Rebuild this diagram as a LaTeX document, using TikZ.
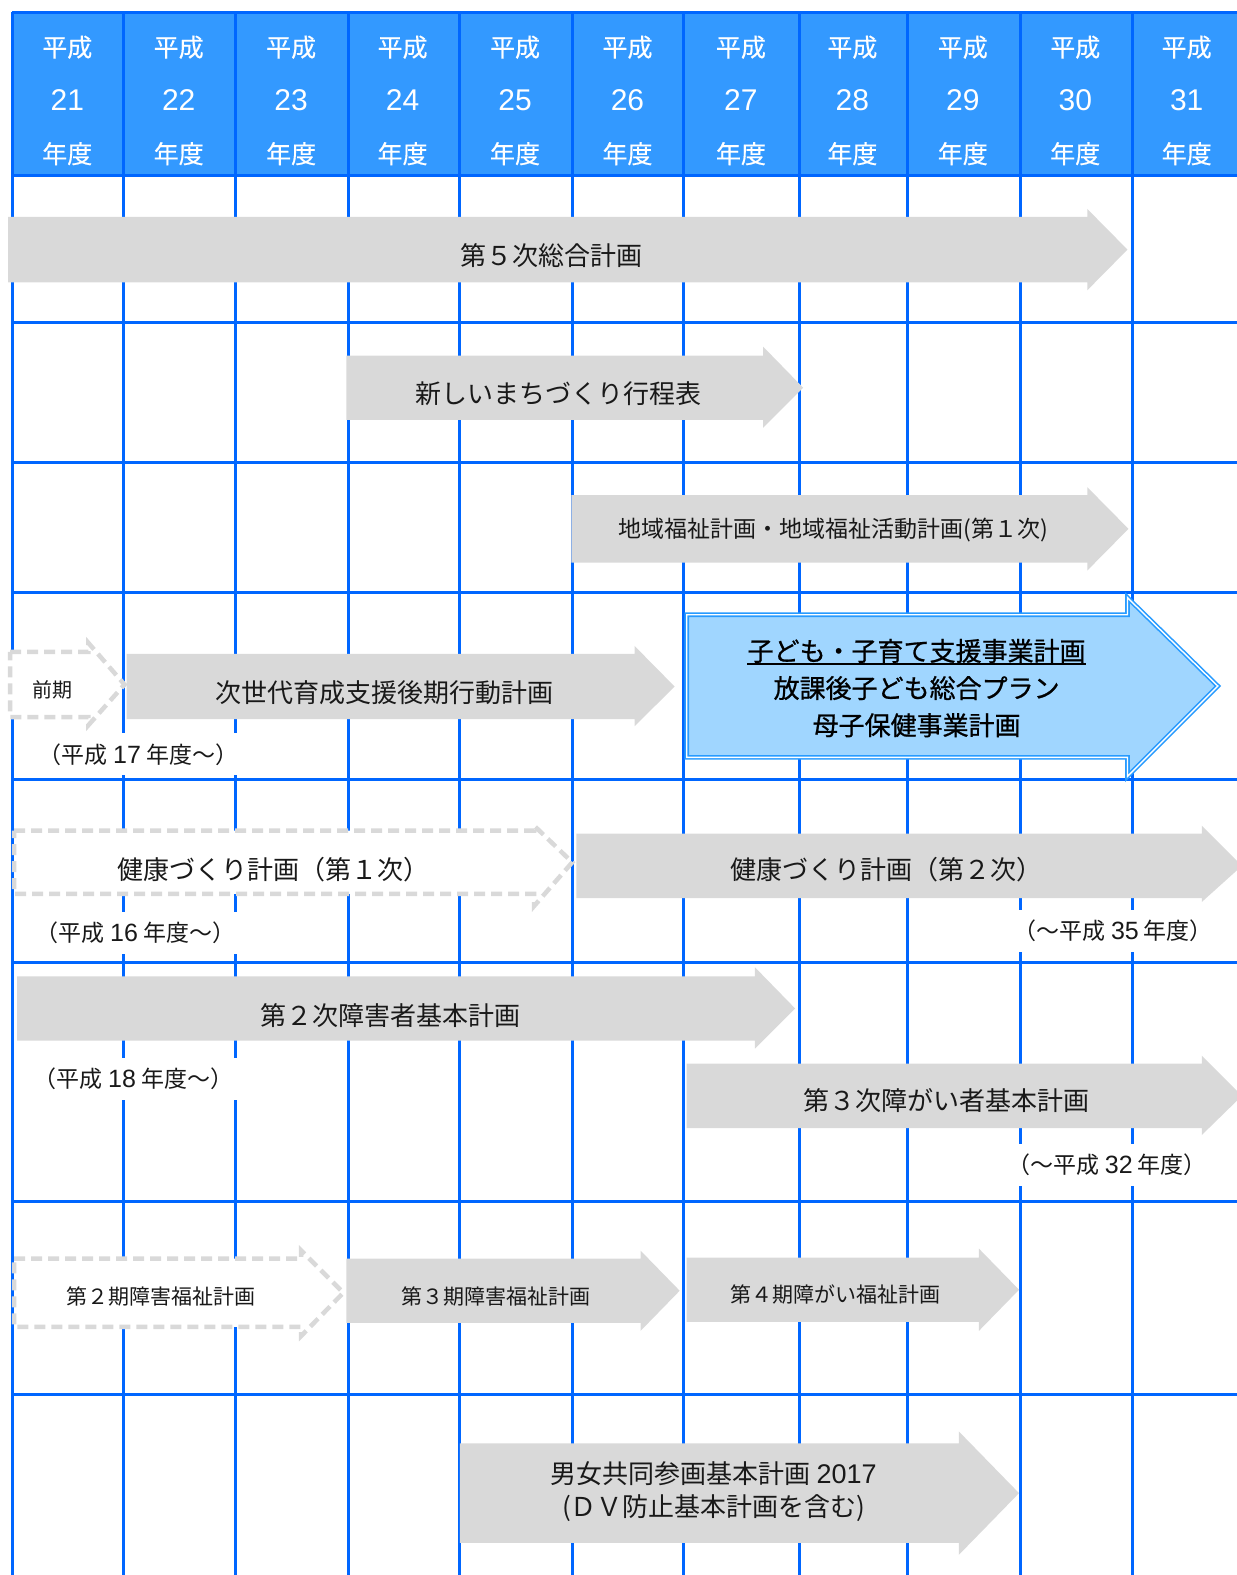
\documentclass[tikz,border=0pt]{standalone}
\usepackage{fontspec}
\setmainfont{Noto Sans CJK JP}
\newfontfamily\jpmed[FakeBold=0.8]{Noto Sans CJK JP}
\newfontfamily\jphd[FakeBold=0.4]{Noto Sans CJK JP}
\newfontfamily\lat{Liberation Sans}
\definecolor{gridblue}{RGB}{0,102,255}
\definecolor{headblue}{RGB}{51,153,255}
\definecolor{arrgray}{RGB}{217,217,217}
\definecolor{lblue}{RGB}{160,214,255}
\definecolor{bblue}{RGB}{40,155,255}
\definecolor{txt}{RGB}{25,25,25}
\newcommand\blockarr[8]{%
  \path[#1] (#2,#5) -- (#3,#5) -- (#3,#7) -- (#4,{(#5+#6)/2}) -- (#3,#8) -- (#3,#6) -- (#2,#6) -- cycle;}
\tikzset{
  gridline/.style={draw=gridblue, line width=3pt},
  hd/.style={text=white, font=\jphd\fontsize{25}{25}\selectfont, inner sep=0pt},
  hn/.style={text=white, font=\lat\fontsize{30}{30}\selectfont, inner sep=0pt},
  gbox/.style={fill=arrgray},
  dbox/.style={fill=white, draw=arrgray, line width=4.5pt, dash pattern=on 11pt off 6pt, line join=miter},
  bbox/.style={fill=lblue, draw=bblue, line width=1.6pt, double=white, double distance=1.4pt, line join=miter},
  big/.style={text=txt, font=\fontsize{26}{30}\selectfont, inner sep=0pt},
  mid/.style={text=txt, font=\fontsize{23}{26}\selectfont, inner sep=0pt},
  small/.style={text=txt, font=\fontsize{21}{24}\selectfont, inner sep=0pt},
  tiny/.style={text=txt, font=\fontsize{20}{22}\selectfont, inner sep=0pt},
  blt/.style={text=black, font=\jpmed\fontsize{26}{30}\selectfont, inner sep=0pt},
  lbl/.style={text=txt, font=\fontsize{23}{25}\selectfont, fill=white, inner xsep=8pt, inner ysep=10pt},
}
\newcommand\dg[1]{{\lat\fontsize{25}{25}\selectfont #1}}
\begin{document}
\begin{tikzpicture}[x=1.004pt, y=-1.0045pt]
\useasboundingbox (0,0) rectangle (1232,1568);
\clip (0,0) rectangle (1232,1568);
% header
\fill[headblue] (12,12) rectangle (1232,175);
\foreach \x/\n in {67/21,178/22,290/23,401/24,513/25,625/26,738/27,849/28,959/29,1071/30,1182/31}{
  \node[hd] (ha\n) at (\x,47) {平成};
  \node[hn] (hb\n) at (\x,100) {\n};
  \node[hd] (hc\n) at (\x,153) {年度};
}
% grid
\foreach \x in {12,123,235,347,458,570,681,796,904,1016,1128}
  \draw[gridline] (\x,12) -- (\x,1568);
\foreach \y in {12,175,321,460,590,776,958,1196,1388}
  \draw[gridline] (12,\y) -- (1232,\y);
% arrows
\blockarr{gbox}{8}{1083}{1123}{216}{281}{208}{289}
\node[big] (t1) at (549,254) {第５次総合計画};
\blockarr{gbox}{345}{760}{800}{354}{418}{345}{426}
\node[big] (t2) at (556,392) {新しいまちづくり行程表};
\blockarr{gbox}{569}{1083}{1124}{493}{560}{485}{568}
\node[mid] (t3) at (830,528) {地域福祉計画・地域福祉活動計画(第１次)};
\blockarr{dbox}{10}{88}{124}{649}{714}{640}{722}
\node[tiny] (t4) at (52,687) {前期};
\blockarr{gbox}{126}{632}{672}{651}{716}{643}{723}
\node[big] (t5) at (383,690) {次世代育成支援後期行動計画};
\blockarr{bbox}{684}{1123}{1213}{612}{754}{595}{773}
\node[blt] (b1) at (913,648) {子ども・子育て支援事業計画};
\node[blt] (b2) at (913,685) {放課後子ども総合プラン};
\node[blt] (b3) at (913,722) {母子保健事業計画};
\draw[line width=2pt, black] ([yshift=-1pt]b1.south west) -- ([yshift=-1pt]b1.south east);
\node[lbl] (l17) at (138,751) {（平成 \dg{17} 年度〜）};
\blockarr{dbox}{14}{532}{570}{827}{890}{822}{902}
\node[big] (t8) at (272,866) {健康づくり計画（第１次）};
\blockarr{gbox}{574}{1197}{1237}{830}{894}{822}{898}
\node[big] (t9) at (883,866) {健康づくり計画（第２次）};
\node[lbl] (l16) at (135,929) {（平成 \dg{16} 年度〜）};
\node[lbl] (l35) at (1109,927) {（〜平成 \dg{35} 年度）};
\blockarr{gbox}{17}{752}{792}{972}{1036}{963}{1044}
\node[big] (t12) at (389,1011) {第２次障害者基本計画};
\node[lbl] (l18) at (133,1074) {（平成 \dg{18} 年度〜）};
\blockarr{gbox}{684}{1197}{1237}{1059}{1123}{1051}{1130}
\node[big] (t14) at (943,1096) {第３次障がい者基本計画};
\node[lbl] (l32) at (1103,1160) {（〜平成 \dg{32} 年度）};
\blockarr{dbox}{14}{300}{342}{1253}{1321}{1245}{1330}
\node[small] (t16) at (160,1291) {第２期障害福祉計画};
\blockarr{gbox}{345}{638}{677}{1253}{1317}{1245}{1325}
\node[small] (t17) at (494,1291) {第３期障害福祉計画};
\blockarr{gbox}{684}{975}{1015}{1252}{1316}{1243}{1325}
\node[small] (t18) at (832,1289) {第４期障がい福祉計画};
\blockarr{gbox}{458}{955}{1015}{1437}{1536}{1425}{1548}
\node[big] (t19a) at (711,1467) {男女共同参画基本計画 {\lat\fontsize{27}{30}\selectfont 2017}};
\node[big] (t19b) at (711,1501) {(ＤＶ防止基本計画を含む)};
\end{tikzpicture}
\end{document}
